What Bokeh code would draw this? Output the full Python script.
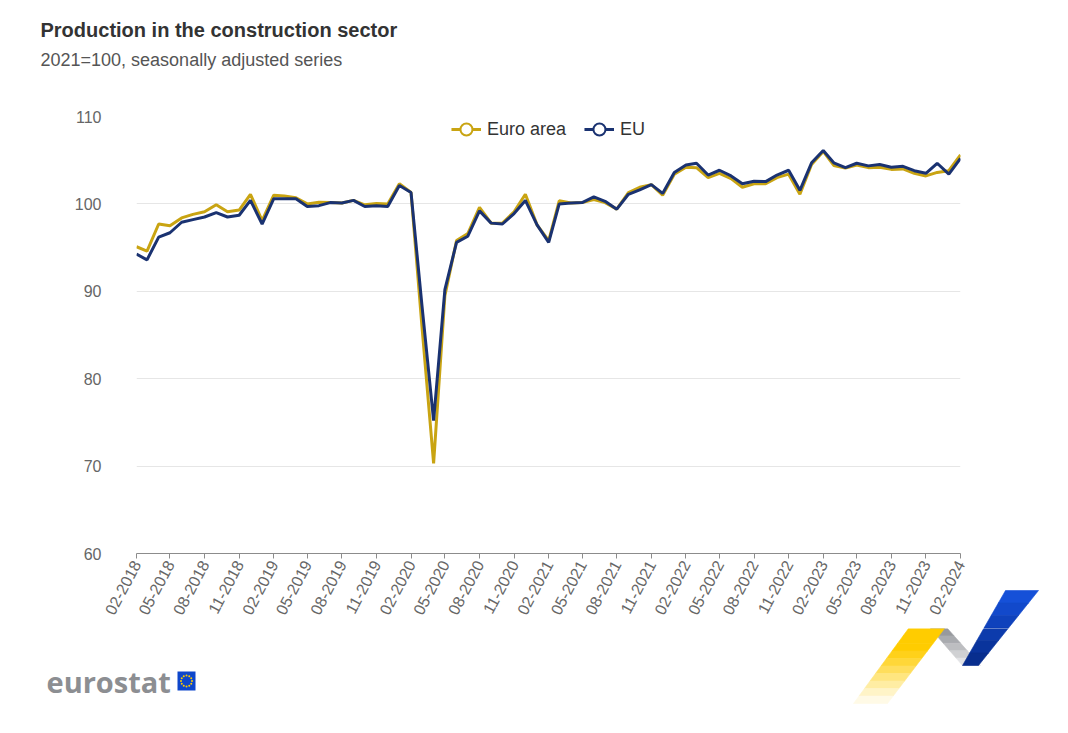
import math
import pandas as pd
from bokeh.plotting import figure
from bokeh.layouts import column, row
from bokeh.models import (ColumnDataSource, Range1d, FixedTicker, DatetimeTickFormatter,
                          Legend, LegendItem, Label, Plot)
from bokeh.embed import file_html
from bokeh.resources import INLINE

# ---------------- data ----------------
months = pd.date_range("2018-02-01", "2024-02-01", freq="MS")

euro_area = [95.1, 94.6, 97.7, 97.5, 98.4, 98.8, 99.1, 99.9, 99.1, 99.3, 101.1,
             98.1, 101.0, 100.9, 100.7, 100.0, 100.2, 100.15, 100.1, 100.4, 99.9, 100.05, 100.0,
             102.3, 101.3, 86.0, 70.3, 89.5, 95.8, 96.6, 99.6, 97.8, 97.8, 99.1, 101.1,
             97.6, 95.8, 100.35, 100.1, 100.15, 100.5, 100.15, 99.4, 101.3, 101.9, 102.2, 101.0,
             103.4, 104.2, 104.15, 103.0, 103.5, 102.9, 101.9, 102.3, 102.3, 103.0, 103.4, 101.1,
             104.5, 106.0, 104.4, 104.1, 104.45, 104.15, 104.2, 103.95, 104.0, 103.5, 103.2, 103.6,
             103.8, 105.6]

eu = [94.25, 93.6, 96.2, 96.7, 97.9, 98.2, 98.5, 99.0, 98.5, 98.7, 100.4,
      97.7, 100.6, 100.6, 100.6, 99.7, 99.8, 100.15, 100.1, 100.4, 99.7, 99.8, 99.7,
      102.1, 101.3, 88.4, 75.2, 90.2, 95.6, 96.3, 99.2, 97.8, 97.7, 98.9, 100.4,
      97.6, 95.6, 100.0, 100.1, 100.15, 100.8, 100.3, 99.4, 101.1, 101.6, 102.2, 101.2,
      103.6, 104.45, 104.65, 103.3, 103.85, 103.2, 102.3, 102.6, 102.55, 103.3, 103.85, 101.55,
      104.7, 106.1, 104.7, 104.15, 104.65, 104.35, 104.5, 104.2, 104.3, 103.8, 103.5, 104.65,
      103.4, 105.2]

series_names = ["Euro area", "EU"]
y_ticks = [60, 70, 80, 90, 100, 110]
x_tick_months = months[::3]

title_text = "Production in the construction sector"
subtitle_text = "2021=100, seasonally adjusted series"
brand_text = "eurostat"

# ---------------- style ----------------
GOLD = "#C9A412"
NAVY = "#1A3271"
FONT = "Liberation Sans"
PAGE_W = 1052
HEADER_H = 108
MAIN_H = 520
MAIN_W = 975
FOOTER_H = 89
CAN_UNALIGN = "frame_align" in Plot.properties()


def blank(width, height, x0, x1, y_top, y_bottom):
    """Decoration canvas whose data space equals page pixels (y grows downward)."""
    f = figure(width=width, height=height, output_backend="svg", toolbar_location=None,
               x_range=Range1d(x0, x1), y_range=Range1d(y_bottom, y_top),
               x_axis_location=None, y_axis_location=None, min_border=0)
    f.outline_line_alpha = 0
    f.grid.visible = False
    if CAN_UNALIGN:
        f.frame_align = False
    return f


# ---------------- header ----------------
header = blank(PAGE_W, HEADER_H, 0, PAGE_W, 0, HEADER_H)
header.add_layout(Label(x=40, y=29, text=title_text, text_font=FONT, text_font_size="20px",
                        text_font_style="bold", text_color="#333333",
                        text_baseline="alphabetic"))
header.add_layout(Label(x=40, y=59, text=subtitle_text, text_font=FONT, text_font_size="18px",
                        text_color="#555555", text_baseline="alphabetic"))

# ---------------- main chart ----------------
src = ColumnDataSource(dict(month=months, euro_area=euro_area, eu=eu))

p = figure(width=MAIN_W, height=MAIN_H, output_backend="svg", toolbar_location=None,
           x_axis_type="datetime",
           x_range=Range1d(months[0], months[-1]), y_range=Range1d(60, 110),
           min_border_left=136, min_border_right=15, min_border_top=8, min_border_bottom=75)
p.outline_line_alpha = 0

r_ea = p.line(x="month", y="euro_area", source=src, line_color=GOLD, line_width=3)
r_eu = p.line(x="month", y="eu", source=src, line_color=NAVY, line_width=3)
# legend-only circle symbols (a single undefined point: nothing is drawn in the plot)
key_src = ColumnDataSource(dict(month=months[:1], nothing=[float("nan")]))
m_ea = p.scatter(x="month", y="nothing", source=key_src, marker="circle",
                 size=13, fill_color="white", line_color=GOLD, line_width=2)
m_eu = p.scatter(x="month", y="nothing", source=key_src, marker="circle",
                 size=13, fill_color="white", line_color=NAVY, line_width=2)

ticks_ms = list((x_tick_months.astype("int64") // 10**6).astype(float))
p.xaxis.ticker = FixedTicker(ticks=ticks_ms)
fmt = "%m-%Y"
p.xaxis.formatter = DatetimeTickFormatter(years=fmt, months=fmt, days=fmt, hours=fmt,
                                          minutes=fmt, seconds=fmt, milliseconds=fmt,
                                          microseconds=fmt, hourmin=fmt, minsec=fmt,
                                          context=None, strip_leading_zeros=False)
p.xaxis.major_label_orientation = math.radians(62)
p.xaxis.axis_line_color = "#8c8c8c"
p.xaxis.major_tick_line_color = "#8c8c8c"
p.xaxis.major_tick_out = 5
p.xaxis.major_tick_in = 0
p.xaxis.minor_tick_line_alpha = 0
p.xaxis.major_label_standoff = 3
p.xaxis.major_label_text_font = FONT
p.xaxis.major_label_text_font_size = "16px"
p.xaxis.major_label_text_color = "#666666"

p.yaxis.ticker = FixedTicker(ticks=y_ticks)
p.yaxis.axis_line_alpha = 0
p.yaxis.major_tick_line_alpha = 0
p.yaxis.major_tick_out = 0
p.yaxis.major_tick_in = 0
p.yaxis.minor_tick_line_alpha = 0
p.yaxis.major_label_standoff = 35
p.yaxis.major_label_text_font = FONT
p.yaxis.major_label_text_font_size = "16px"
p.yaxis.major_label_text_color = "#666666"

p.xgrid.visible = False
p.ygrid.ticker = FixedTicker(ticks=y_ticks)
p.ygrid.grid_line_color = "#e6e6e6"
p.ygrid.grid_line_width = 1

legend = Legend(items=[LegendItem(label=series_names[0], renderers=[r_ea, m_ea]),
                       LegendItem(label=series_names[1], renderers=[r_eu, m_eu])],
                orientation="horizontal", location="top_center",
                label_text_font=FONT, label_text_font_size="18px", label_text_color="#333333",
                glyph_width=30, glyph_height=30, spacing=18, label_standoff=6,
                padding=0, margin=-2, border_line_alpha=0, background_fill_alpha=0)
p.add_layout(legend)

# ---------------- logo decorations (page pixel geometry) ----------------
def bands(top_l, top_r, bot_l, bot_r, n):
    """Split a quadrilateral (top edge -> bottom edge) into n stacked strips."""
    out = []
    for i in range(n):
        a, b = i / n, (i + 1) / n
        lerp = lambda p0, p1, t: (p0[0] + (p1[0] - p0[0]) * t, p0[1] + (p1[1] - p0[1]) * t)
        pts = [lerp(top_l, bot_l, a), lerp(top_r, bot_r, a),
               lerp(top_r, bot_r, b), lerp(top_l, bot_l, b)]
        out.append(([q[0] for q in pts], [q[1] for q in pts]))
    return out


def yellow_on_white(a):
    r, g, b = 255, round(255 - 51 * a), round(255 - 255 * a)
    return "#%02X%02X%02X" % (r, g, b)


YELLOW_ALPHAS = [1.0, 1.0, 1.0, 0.9, 0.78, 0.64, 0.5, 0.36, 0.22, 0.1]
YELLOW_SHADES = [yellow_on_white(a) for a in YELLOW_ALPHAS]
GRAY_SHADES = ["#97999D", "#A9ABAF", "#BDBEC1", "#D0D1D3", "#E2E3E5"]
BLUE_SHADES = ["#1550D8", "#1249CB", "#0F42BC", "#0C3BAC", "#0A349C", "#082E8E"]

yellow_parts = bands((908, 628), (944, 628), (853, 703), (887, 703), len(YELLOW_SHADES))
gray_parts = bands((930, 628), (947, 628), (962, 665), (980, 665), len(GRAY_SHADES))
blue_parts = bands((1005, 590), (1038, 590), (962, 665), (978, 665), len(BLUE_SHADES))


def draw_ribbon(f):
    for parts, shades in ((gray_parts, GRAY_SHADES), (yellow_parts, YELLOW_SHADES),
                          (blue_parts, BLUE_SHADES)):
        for (xs, ys), c in zip(parts, shades):
            f.patch(xs, ys, fill_color=c, line_color=c, line_width=0.6)


footer_top = HEADER_H + MAIN_H
footer = blank(PAGE_W, FOOTER_H, 0, PAGE_W, footer_top, footer_top + FOOTER_H)
draw_ribbon(footer)
footer.add_layout(Label(x=46, y=681, text=brand_text, text_font="Open Sans",
                        text_font_size="29px", text_font_style="bold",
                        text_color="#8C8E92", text_baseline="alphabetic"))
footer.quad(left=177, right=195, top=671, bottom=690, fill_color="#0E47CB", line_alpha=0)
star_x = [186 + 5.5 * math.cos(2 * math.pi * k / 12) for k in range(12)]
star_y = [680.5 + 5.5 * math.sin(2 * math.pi * k / 12) for k in range(12)]
footer.scatter(star_x, star_y, marker="circle", size=2, fill_color="#FFCC00", line_alpha=0)

if CAN_UNALIGN:
    side = blank(PAGE_W - MAIN_W, MAIN_H, MAIN_W, PAGE_W, HEADER_H, HEADER_H + MAIN_H)
    draw_ribbon(side)
    middle = row(p, side, spacing=0)
else:
    middle = p

layout = column(header, middle, footer, spacing=0)

open("out.html", "w").write(file_html(layout, INLINE))
